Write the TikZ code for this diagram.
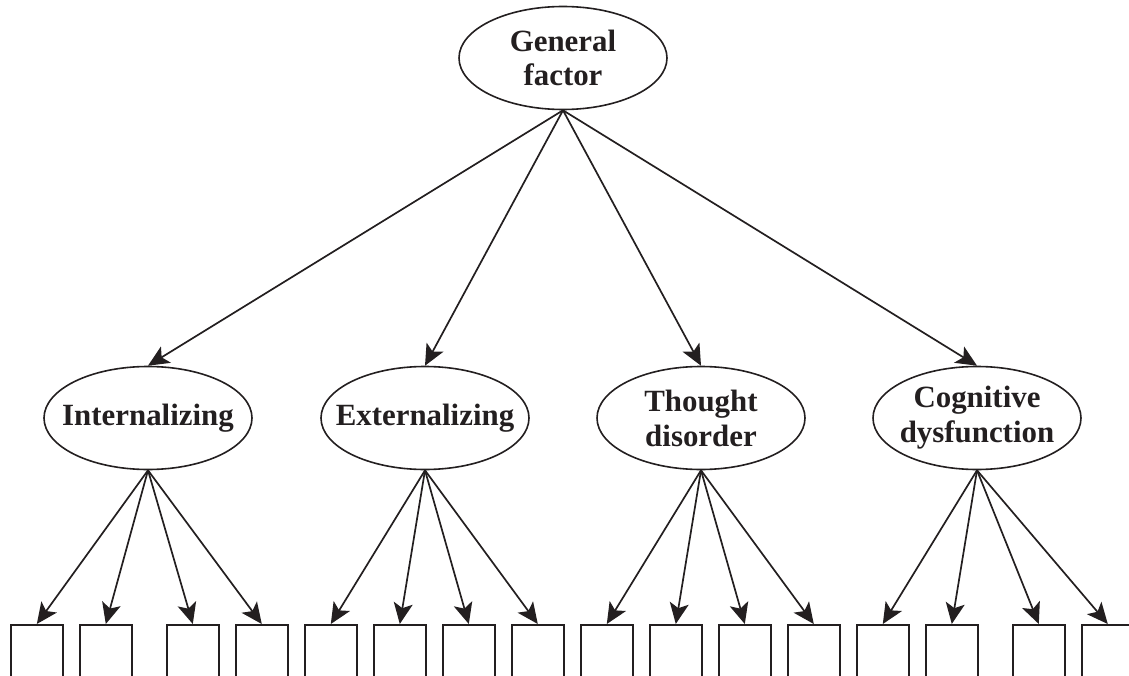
\documentclass[tikz,border=0pt]{standalone}
\usepackage{fontspec}
\setmainfont{Liberation Serif}
\usetikzlibrary{shapes.geometric,arrows.meta}
\definecolor{ink}{RGB}{35,31,32}
\begin{document}
\begin{tikzpicture}[x=1bp,y=-1bp,
  factor/.style={ellipse,draw=ink,line width=1.6bp,minimum width=208bp,minimum height=103bp,
    inner sep=0pt},
  lbl/.style={align=center,text=ink,inner sep=0pt,font=\bfseries\fontsize{31}{35}\selectfont},
  item/.style={rectangle,draw=ink,line width=1.6bp,minimum width=52bp,minimum height=80bp,
    inner sep=0pt,anchor=north west},
  load/.style={draw=ink,line width=1.7bp,-{Stealth[length=21bp,width=19bp,inset=5bp]}}]
\useasboundingbox (0,0) rectangle (1129,676);
\clip (0,0) rectangle (1129,676);

% general factor on top
\node[factor,label={[lbl]center:General\\factor}] (g) at (563,58) {};

% four specific factors
\node[factor,label={[lbl]center:Internalizing}] (int) at (148,418) {};
\node[factor,label={[lbl]center:Externalizing}] (ext) at (425,418) {};
\node[factor,label={[lbl]center:Thought\\disorder}] (tho) at (701,418) {};
\node[factor,label={[lbl]center:Cognitive\\dysfunction}] (cog) at (977,418) {};

% observed indicators (boxes run past the lower edge)
\foreach \x [count=\i] in {10,79,166,235,304,373,442,511,580,649,718,787,856,925,1012,1081}
  \node[item] (b\i) at (\x,624) {};

% loadings of the general factor
\foreach \f in {int,ext,tho,cog}
  \draw[load] (g.south) -- (\f.north);

% loadings of the specific factors
\foreach \f/\a in {int/1,ext/5,tho/9,cog/13}{
  \foreach \k in {0,1,2,3}{
    \pgfmathtruncatemacro{\n}{\a+\k}
    \draw[load] (\f.south) -- (b\n.north);
  }
}
\end{tikzpicture}
\end{document}
